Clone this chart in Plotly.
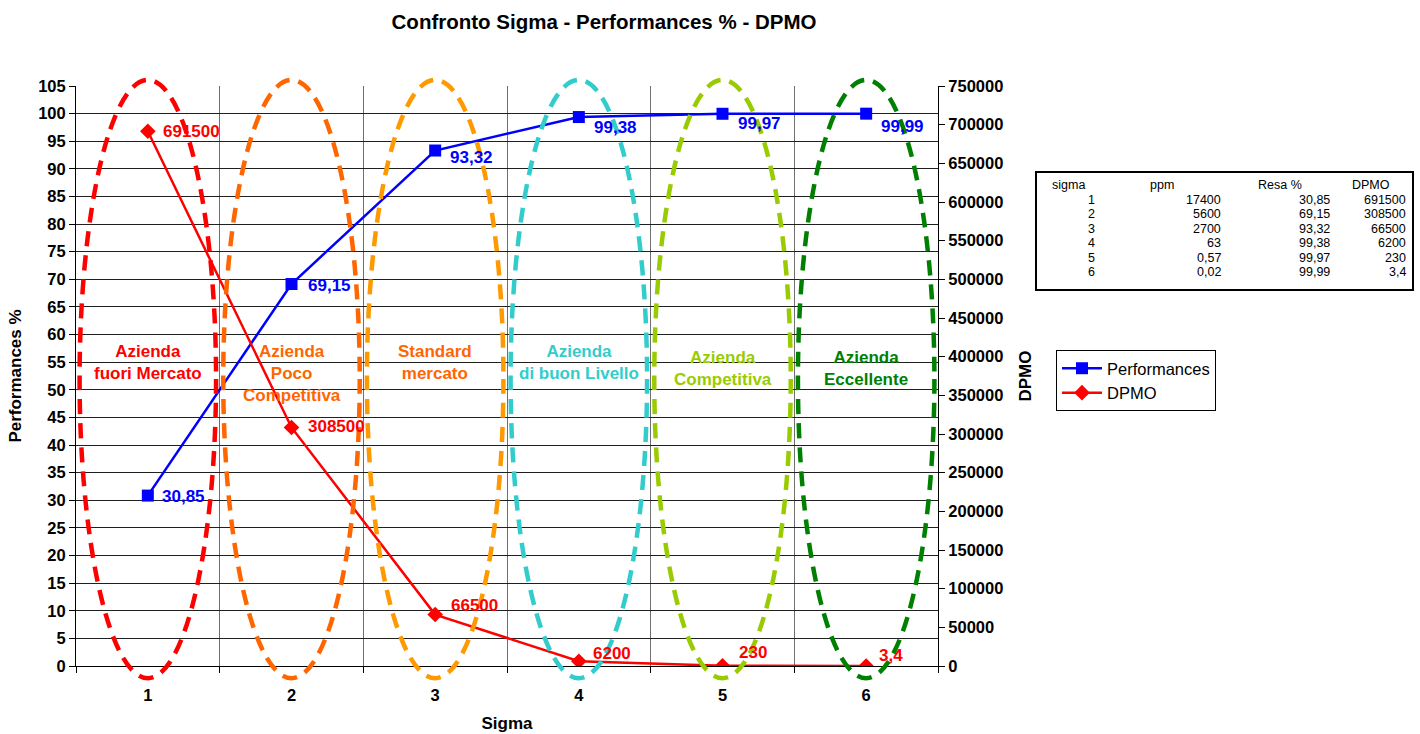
import plotly.graph_objects as go

# --- data -------------------------------------------------------------
sigma = [1, 2, 3, 4, 5, 6]
ppm = [17400, 5600, 2700, 63, 0.57, 0.02]
resa = [30.85, 69.15, 93.32, 99.38, 99.97, 99.99]
dpmo = [691500, 308500, 66500, 6200, 230, 3.4]

zone_names = [
    "Azienda<br>fuori Mercato",
    "Azienda<br>Poco<br>Competitiva",
    "Standard<br>mercato",
    "Azienda<br>di buon Livello",
    "Azienda<br>Competitiva",
    "Azienda<br>Eccellente",
]
table_header = ["sigma", "ppm", "Resa %", "DPMO"]

# --- styling ----------------------------------------------------------
FONT = "Arial, Liberation Sans, sans-serif"
BLUE = "#0000FF"
RED = "#FF0000"
ring_colors = ["#FF0000", "#FF6600", "#FF9900", "#33CCCC", "#99CC00", "#008000"]
zone_text_colors = ["#FF0000", "#FF6600", "#FF6600", "#33CCCC", "#99CC00", "#008000"]
zone_text_y = [54.9, 52.9, 54.9, 55.0, 53.9, 53.9]

# pixel offsets of the value labels from their markers (dx right, dy down)
resa_label_dx = [12, 14, 13, 13, 13, 13]
resa_label_dy = [1, 1, 7, 10, 10, 13]
dpmo_label_dx = [13, 14, 14, 12, 14, 11]
dpmo_label_dy = [0, -1, -9, -8, -13, -11]

Y_MAX = 105
Y2_MAX = 750000
RING_HALF_W = 0.475
RING_TOP = 106.1
RING_BOTTOM = -2.2

W, H = 1420, 734
L, R, T, B = 76, 482, 86, 68
PLOT_W = W - L - R
PLOT_H = H - T - B


def px_x(x):
    return (x - L) / PLOT_W


def px_y(y):
    return (H - B - y) / PLOT_H


def fmt(v):
    return f"{v:g}".replace(".", ",")


resa_labels = [f"{v:.2f}".replace(".", ",") for v in resa]
dpmo_labels = [fmt(v) for v in dpmo]

fig = go.Figure()

fig.add_trace(go.Scatter(
    x=sigma, y=resa, name="Performances", mode="lines+markers",
    line=dict(color=BLUE, width=2.5),
    marker=dict(symbol="square", size=12, color=BLUE),
))

fig.add_trace(go.Scatter(
    x=sigma, y=dpmo, name="DPMO", yaxis="y2", mode="lines+markers",
    line=dict(color=RED, width=2.5),
    marker=dict(symbol="diamond", size=12, color=RED),
))

shapes = []
annotations = []

# value labels next to each marker
for s, v, t, dx, dy in zip(sigma, resa, resa_labels, resa_label_dx, resa_label_dy):
    annotations.append(dict(
        x=s, y=v, xref="x", yref="y", text=t, showarrow=False,
        xanchor="left", yanchor="middle", xshift=dx, yshift=-dy,
        font=dict(family=FONT, size=17, color=BLUE, weight="bold"),
    ))
for s, v, t, dx, dy in zip(sigma, dpmo, dpmo_labels, dpmo_label_dx, dpmo_label_dy):
    annotations.append(dict(
        x=s, y=v, xref="x", yref="y2", text=t, showarrow=False,
        xanchor="left", yanchor="middle", xshift=dx, yshift=-dy,
        font=dict(family=FONT, size=17, color=RED, weight="bold"),
    ))

# dashed rings around each sigma level
for s, col in zip(sigma, ring_colors):
    shapes.append(dict(
        type="circle", xref="x", yref="paper", layer="above",
        x0=s - RING_HALF_W, x1=s + RING_HALF_W,
        y0=RING_BOTTOM / Y_MAX, y1=RING_TOP / Y_MAX,
        line=dict(color=col, width=4.5, dash="15px,9px"),
    ))

for s, name, col, ty in zip(sigma, zone_names, zone_text_colors, zone_text_y):
    annotations.append(dict(
        x=s, y=ty, xref="x", yref="y", text=name, showarrow=False,
        xanchor="center", yanchor="middle",
        font=dict(family=FONT, size=17, color=col, weight="bold"),
    ))

# summary table to the right of the chart
shapes.append(dict(
    type="rect", xref="paper", yref="paper",
    x0=px_x(1036), x1=px_x(1413), y0=px_y(290), y1=px_y(172),
    line=dict(color="black", width=2), fillcolor="white", layer="below",
))
header_left = [1050, 1148, 1256, 1350]
col_right = [1097, 1223, 1332, 1408]
row_y0, row_dy = 185, 14.5
tfont = dict(family=FONT, size=12.5, color="black")
for hx, htxt in zip(header_left, table_header):
    annotations.append(dict(
        x=px_x(hx), y=px_y(row_y0), xref="paper", yref="paper", text=htxt,
        showarrow=False, xanchor="left", yanchor="middle", font=tfont,
    ))
for i, (s, p, r, d) in enumerate(zip(sigma, ppm, resa, dpmo)):
    cells = [str(s), fmt(p), f"{r:.2f}".replace(".", ","), fmt(d)]
    for cx, ctxt in zip(col_right, cells):
        annotations.append(dict(
            x=px_x(cx), y=px_y(row_y0 + row_dy * (i + 1)),
            xref="paper", yref="paper", text=ctxt, showarrow=False,
            xanchor="right", yanchor="middle", font=tfont,
        ))

tick_font = dict(family=FONT, size=16.5, color="black", weight="bold")
title_font = dict(family=FONT, size=17, color="black", weight="bold")

fig.update_layout(
    width=W, height=H,
    margin=dict(l=L, r=R, t=T, b=B, pad=0, autoexpand=False),
    paper_bgcolor="white", plot_bgcolor="white",
    title=dict(
        text="Confronto Sigma - Performances % - DPMO",
        x=604 / W, xanchor="center", xref="container",
        y=1 - 22 / H, yanchor="middle", yref="container",
        font=dict(family=FONT, size=20.5, color="black", weight="bold"),
    ),
    xaxis=dict(
        range=[0.5, 6.5], tickvals=sigma, ticktext=[str(s) for s in sigma],
        tickfont=tick_font, ticks="outside", ticklen=14,
        tickcolor="rgba(0,0,0,0)", showgrid=False, zeroline=False,
        showline=True, linecolor="black", linewidth=1, automargin=False,
        minor=dict(tickvals=[0.5, 1.5, 2.5, 3.5, 4.5, 5.5, 6.5],
                   ticks="outside", ticklen=6, tickcolor="black",
                   showgrid=True, gridcolor="#707070", gridwidth=1),
        title=dict(text="Sigma", font=title_font, standoff=14),
    ),
    yaxis=dict(
        range=[0, Y_MAX], dtick=5, tick0=0,
        tickfont=tick_font, ticks="outside", ticklen=6, tickcolor="black",
        showgrid=True, gridcolor="#202020", gridwidth=1, zeroline=False,
        showline=True, linecolor="black", linewidth=1, automargin=False,
        title=dict(text="Performances %", font=title_font, standoff=12),
    ),
    yaxis2=dict(
        range=[0, Y2_MAX], dtick=50000, tick0=0, overlaying="y", side="right",
        tickformat="d",
        tickfont=tick_font, ticks="outside", ticklen=6, tickcolor="black",
        showgrid=False, zeroline=False, automargin=False,
        showline=True, linecolor="black", linewidth=1,
        title=dict(text="DPMO", font=title_font, standoff=16),
    ),
    legend=dict(
        x=px_x(1056), y=px_y(350), xanchor="left", yanchor="top",
        xref="paper", yref="paper",
        bordercolor="black", borderwidth=1, bgcolor="white",
        font=dict(family=FONT, size=16.5, color="black"),
        tracegroupgap=0, itemwidth=40,
    ),
    shapes=shapes,
    annotations=annotations,
    showlegend=True,
)

fig.write_html("out.html")
